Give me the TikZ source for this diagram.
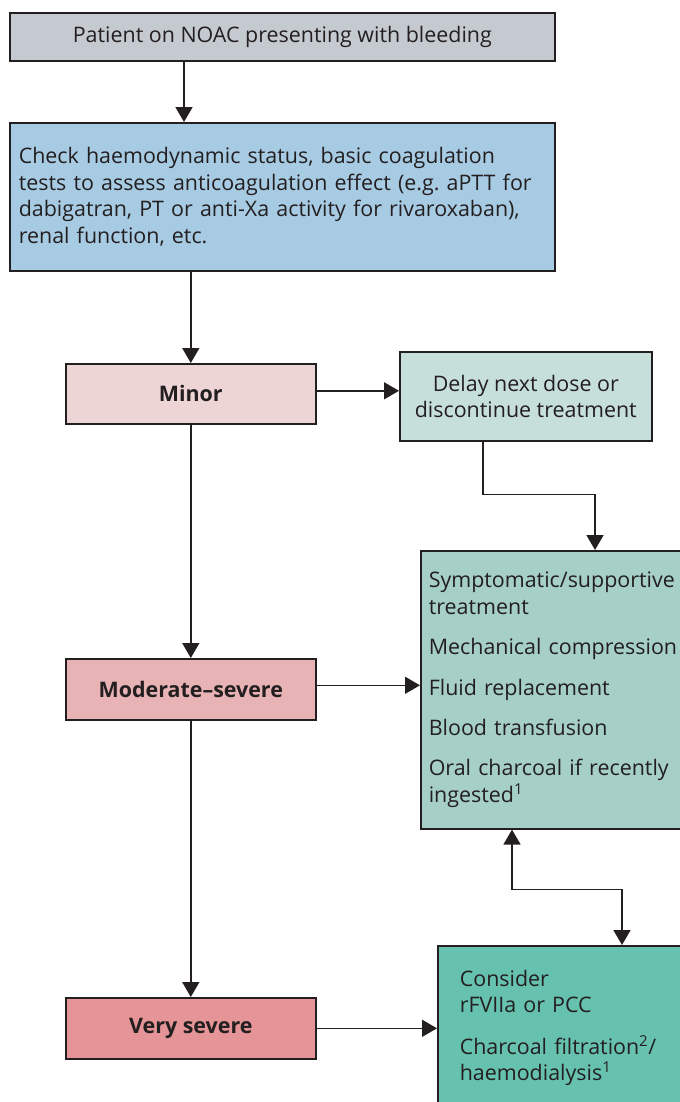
\documentclass[tikz,border=0pt]{standalone}
\usepackage{fontspec}
\setmainfont{Open Sans}
\usetikzlibrary{arrows.meta}
\definecolor{ink}{HTML}{231F20}
\definecolor{cGray}{HTML}{C5CAD1}
\definecolor{cBlue}{HTML}{A8CBE4}
\definecolor{cMinor}{HTML}{EDD4D5}
\definecolor{cDelay}{HTML}{C7DFDB}
\definecolor{cSupp}{HTML}{A5CFC7}
\definecolor{cModer}{HTML}{E8B3B5}
\definecolor{cSevere}{HTML}{E59597}
\definecolor{cRx}{HTML}{66C1AE}
\frenchspacing
\begin{document}
\begin{tikzpicture}[x=1bp, y=-1bp, >={Triangle[length=15bp,width=17bp]},
  every node/.style={font=\fontsize{21.5}{26.5}\selectfont, text=ink},
  box/.style={draw=ink, line width=1.6bp, inner sep=0pt, anchor=north west},
  grade/.style={box, font=\fontsize{21.5}{26.5}\selectfont\bfseries},
  link/.style={draw=ink, line width=1.6bp}]
  \useasboundingbox (0,0) rectangle (680,1102);
  % Eingang
  \node[box, fill=cGray, minimum width=545bp, minimum height=48bp] (Start) at (9,12) {Patient on NOAC presenting with bleeding};
  \node[box, fill=cBlue, minimum width=545bp, minimum height=148bp, text width=527bp, align=left] (Check) at (9,122)
    {Check haemodynamic status, basic coagulation\\ \mbox{tests to assess anticoagulation effect (e.g. aPTT for}\\ \mbox{dabigatran, PT or anti-Xa activity for rivaroxaban),}\\ renal function, etc.};
  % Schweregrad
  \node[grade, fill=cMinor, minimum width=250bp, minimum height=60bp] (Minor) at (65,363) {Minor};
  \node[grade, fill=cModer, minimum width=250bp, minimum height=61bp] (Moder) at (65,658) {Moderate–severe};
  \node[grade, fill=cSevere, minimum width=250bp, minimum height=61bp] (Severe) at (65,997) {Very severe};
  % Massnahmen
  \node[box, fill=cDelay, minimum width=252bp, minimum height=89bp, align=center] (Delay) at (399,351) {Delay next dose or\\ discontinue treatment};
  \node[box, fill=cSupp, minimum width=290bp, minimum height=278bp, text width=274bp, align=left] (Supp) at (420,550)
    {Symptomatic/supportive\\ treatment\\[14bp] Mechanical compression\\[14bp] Fluid replacement\\[14bp] Blood transfusion\\[14bp] Oral charcoal if recently\\ ingested\textsuperscript{1}};
  \node[box, fill=cRx, minimum width=290bp, minimum height=164bp, text width=246bp, align=left] (Rx) at (437,945)
    {Consider\\ rFVIIa or PCC\\[15bp] Charcoal filtration\textsuperscript{2}/\\ haemodialysis\textsuperscript{1}};
  % Pfeile
  \draw[link, ->] ([xshift=175bp]Start.south west) -- ([xshift=175bp]Check.north west);
  \draw[link, ->] (Minor.north |- Check.south) -- (Minor.north);
  \draw[link, ->] (Minor.south) -- (Moder.north);
  \draw[link, ->] (Moder.south) -- (Severe.north);
  \draw[link, ->] ([yshift=3bp]Minor.east) -- ([yshift=3bp]Minor.east -| Delay.west);
  \draw[link, ->] ([yshift=4bp]Moder.east) -- ([yshift=4bp]Moder.east -| Supp.west);
  \draw[link, ->] (Severe.east) -- (Severe.east -| Rx.west);
  \draw[link, ->] ([xshift=84bp]Delay.south west) -- ++(0,53) -| ([xshift=175bp]Supp.north west);
  \draw[link, <->] ([xshift=92bp]Supp.south west) -- ++(0,60) -| ([xshift=185bp]Rx.north west);
\end{tikzpicture}
\end{document}
